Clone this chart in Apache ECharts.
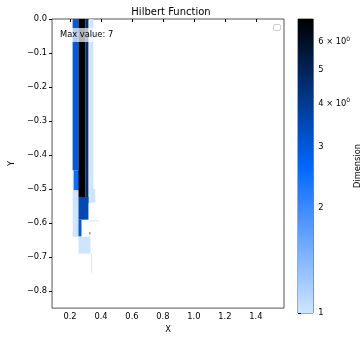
<!DOCTYPE html>
<html>
<head>
<meta charset="utf-8">
<script src="https://cdn.jsdelivr.net/npm/echarts@6/dist/echarts.min.js"></script>
<style>
  html, body { margin: 0; padding: 0; background: #fff; }
  #chart { width: 363px; height: 339px; }
</style>
</head>
<body>
<div id="chart"></div>
<script>
  // rectangles of the Hilbert function (top = 0, bottom = depth)
  const rectX0 = [0.217, 0.325, 0.325, 0.255, 0.325, 0.335, 0.217, 0.224, 0.255, 0.300, 0.255, 0.255, 0.325];
  const rectX1 = [0.262, 0.351, 0.363, 0.332, 0.389, 0.339, 0.255, 0.262, 0.300, 0.319, 0.319, 0.274, 0.331];
  const rectTop = [0, 0, -0.50, -0.64, -0.592, -0.69, 0, -0.445, 0, 0, -0.523, -0.59, -0.627];
  const rectBottom = [-0.64, -0.51, -0.54, -0.69, -0.595, -0.746, -0.445, -0.503, -0.523, -0.541, -0.59, -0.639, -0.633];
  const rectDim = [1, 1, 1, 1, 1, 1, 3, 2.5, 7, 4.5, 3.5, 3, 3];

  const xTicks = [0.2, 0.4, 0.6, 0.8, 1.0, 1.2, 1.4];
  const yTicks = [0, -0.1, -0.2, -0.3, -0.4, -0.5, -0.6, -0.7, -0.8];
  const cbarTicks = [1, 2, 3, 4, 5, 6];
  const maxDim = 7;

  const cmap = ['#cfe5ff', '#0066ff', '#000000'];
  const font = 'DejaVu Sans';
  const frame = '#555';

  const rects = rectX0.map((x, i) => [x, rectX1[i], rectTop[i], rectBottom[i], Math.log(rectDim[i])]);

  function fmtNum(v) {
    return (v < 0 ? '\u2212' : '') + Math.abs(v).toFixed(1);
  }

  const chart = echarts.init(document.getElementById('chart'));
  chart.setOption({
    animation: false,
    backgroundColor: '#fff',
    textStyle: { fontFamily: font },
    title: {
      text: 'Hilbert Function',
      left: 166,
      top: 2,
      textAlign: 'center',
      textStyle: { fontSize: 10, fontWeight: 'normal', color: '#000', fontFamily: font }
    },
    grid: [
      { left: 48, top: 19, width: 236, height: 294, show: true, borderColor: frame, borderWidth: 1, backgroundColor: '#fff' },
      { left: 298, top: 19, width: 16, height: 294, show: true, borderColor: frame, borderWidth: 1 }
    ],
    xAxis: [{
      type: 'value', gridIndex: 0, min: 0.084, max: 1.582,
      name: 'X', nameLocation: 'middle', nameGap: 16,
      nameTextStyle: { fontSize: 8.3, color: '#000' },
      axisLine: { show: false },
      splitLine: { show: false },
      axisTick: { show: true, length: 3, inside: false, customValues: xTicks, lineStyle: { color: '#000' } },
      axisLabel: { fontSize: 8.3, color: '#000', margin: 5, customValues: xTicks, formatter: v => v.toFixed(1) }
    }, {
      type: 'value', gridIndex: 1, min: 0, max: 1, show: false
    }],
    yAxis: [{
      type: 'value', gridIndex: 0, min: -0.85, max: 0,
      name: 'Y', nameLocation: 'middle', nameGap: 32,
      nameTextStyle: { fontSize: 8.3, color: '#000' },
      axisLine: { show: false },
      splitLine: { show: false },
      axisTick: { show: true, length: 3, customValues: yTicks, lineStyle: { color: '#000' } },
      axisLabel: { fontSize: 8.3, color: '#000', margin: 5, customValues: yTicks, formatter: fmtNum }
    }, {
      type: 'value', gridIndex: 1, min: 0, max: Math.log(maxDim), position: 'right',
      name: 'Dimension', nameLocation: 'middle', nameGap: 38, nameRotate: 90,
      nameTextStyle: { fontSize: 8.3, color: '#000' },
      axisLine: { show: false },
      splitLine: { show: false },
      axisTick: { show: true, length: 3, customValues: cbarTicks.map(Math.log), lineStyle: { color: '#000' } },
      axisLabel: {
        fontSize: 8.3, color: '#000', margin: 5,
        customValues: cbarTicks.map(Math.log),
        formatter: function (v) {
          const n = Math.round(Math.exp(v));
          if (n === 4 || n === 6) return n + ' \u00d7 10{sup|0}';
          return String(n);
        },
        rich: { sup: { fontSize: 6, padding: [0, 0, 6, 0], color: '#000' } }
      }
    }],
    visualMap: {
      show: false,
      type: 'continuous',
      seriesIndex: 0,
      dimension: 4,
      min: 0,
      max: Math.log(maxDim),
      inRange: { color: cmap }
    },
    series: [{
      type: 'custom',
      xAxisIndex: 0,
      yAxisIndex: 0,
      encode: { x: [0, 1], y: [2, 3] },
      data: rects,
      clip: true,
      renderItem: function (params, api) {
        const p0 = api.coord([api.value(0), api.value(2)]);
        const p1 = api.coord([api.value(1), api.value(3)]);
        return {
          type: 'rect',
          shape: { x: p0[0], y: p0[1], width: Math.max(1, p1[0] - p0[0]), height: Math.max(1, p1[1] - p0[1]) },
          style: { fill: api.visual('color') }
        };
      }
    }, {
      type: 'custom',
      xAxisIndex: 1,
      yAxisIndex: 1,
      encode: { x: [0, 1], y: [2, 3] },
      data: [[0, 1, 0, Math.log(maxDim)]],
      renderItem: function (params, api) {
        const p0 = api.coord([api.value(0), api.value(3)]);
        const p1 = api.coord([api.value(1), api.value(2)]);
        return {
          type: 'rect',
          shape: { x: p0[0], y: p0[1], width: p1[0] - p0[0], height: p1[1] - p0[1] },
          style: {
            fill: new echarts.graphic.LinearGradient(0, 1, 0, 0, [
              { offset: 0, color: cmap[0] },
              { offset: 0.5, color: cmap[1] },
              { offset: 1, color: cmap[2] }
            ])
          }
        };
      }
    }],
    graphic: [{
      type: 'text',
      left: 58,
      top: 28,
      z: 100,
      style: {
        text: 'Max value: 7',
        fontSize: 8.3,
        fontFamily: font,
        fill: '#000',
        backgroundColor: 'rgba(255,255,255,0.7)',
        padding: [3, 2, 3, 2]
      }
    }, {
      type: 'rect',
      z: 100,
      shape: { x: 273.5, y: 24.5, width: 7, height: 6, r: 1.5 },
      style: { fill: '#fff', stroke: '#ccc', lineWidth: 1 }
    }]
  });
</script>
</body>
</html>
